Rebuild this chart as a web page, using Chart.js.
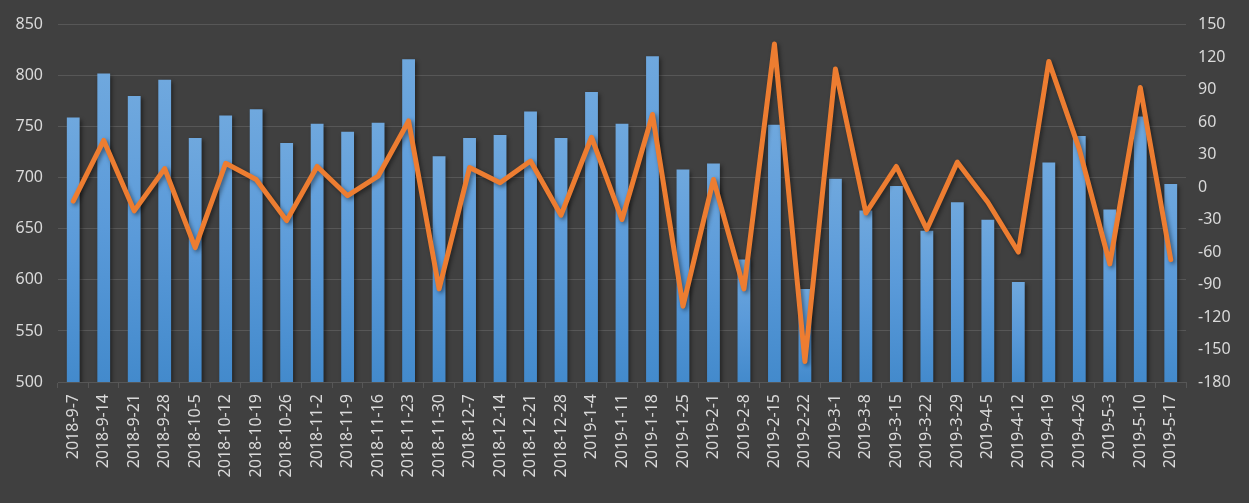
<!DOCTYPE html>
<html>
<head>
<meta charset="utf-8">
<script src="https://cdn.jsdelivr.net/npm/chart.js@4/dist/chart.umd.min.js"></script>
<style>
  html, body { margin: 0; padding: 0; background: #404040; }
  #wrap { width: 1249px; height: 503px; position: relative; }
</style>
</head>
<body>
<div id="wrap"><canvas id="chart"></canvas></div>
<script>
/* ─── Data ───────────────────────────────────────────────── */
const weeks = [
  '2018-9-7', '2018-9-14', '2018-9-21', '2018-9-28', '2018-10-5', '2018-10-12',
  '2018-10-19', '2018-10-26', '2018-11-2', '2018-11-9', '2018-11-16', '2018-11-23',
  '2018-11-30', '2018-12-7', '2018-12-14', '2018-12-21', '2018-12-28', '2019-1-4',
  '2019-1-11', '2019-1-18', '2019-1-25', '2019-2-1', '2019-2-8', '2019-2-15',
  '2019-2-22', '2019-3-1', '2019-3-8', '2019-3-15', '2019-3-22', '2019-3-29',
  '2019-4-5', '2019-4-12', '2019-4-19', '2019-4-26', '2019-5-3', '2019-5-10', '2019-5-17'
];
const barValues = [
  759, 802, 780, 796, 739, 761, 767, 734, 753, 745, 754, 816,
  721, 739, 742, 765, 739, 784, 753, 819, 708, 714, 620, 752,
  591, 699, 668, 692, 648, 676, 659, 598, 715, 741, 669, 760, 694
];
const lineValues = [
  -13, 43, -22, 17, -56, 22, 7, -31, 19, -8, 10, 61,
  -94, 18, 4, 24, -26, 46, -30, 67, -110, 7, -94, 132,
  -161, 109, -24, 19, -39, 23, -14, -60, 116, 35, -71, 92, -67
];
const leftTicks  = [500, 550, 600, 650, 700, 750, 800, 850];
const rightTicks = [-180, -150, -120, -90, -60, -30, 0, 30, 60, 90, 120, 150];

/* ─── Styles ─────────────────────────────────────────────── */
const TEXT = '#d9d9d9';
const GRID = '#575757';
const FONT = 'Noto Sans';

function barGradient(c) {
  const chart = c.chart;
  const area = chart.chartArea;
  if (!area || c.parsed === undefined) return '#5b9bd5';
  const top = chart.scales.y.getPixelForValue(c.parsed.y);
  const g = chart.ctx.createLinearGradient(0, top, 0, area.bottom);
  g.addColorStop(0, '#6fa8de');
  g.addColorStop(0.5, '#5a9ad9');
  g.addColorStop(1, '#438acc');
  return g;
}

const shadowPlugin = {
  id: 'shadows',
  beforeDatasetDraw(chart) {
    const ctx = chart.ctx;
    ctx.save();
    ctx.shadowColor = 'rgba(0,0,0,0.45)';
    ctx.shadowBlur = 4;
    ctx.shadowOffsetX = 2;
    ctx.shadowOffsetY = 2;
  },
  afterDatasetDraw(chart) {
    chart.ctx.restore();
  }
};

/* ─── Chart ──────────────────────────────────────────────── */
new Chart(document.getElementById('chart'), {
  data: {
    labels: weeks,
    datasets: [
      {
        type: 'line',
        data: lineValues,
        yAxisID: 'y1',
        borderColor: '#ed7d31',
        borderWidth: 5,
        pointRadius: 0,
        tension: 0,
        borderJoinStyle: 'round',
        borderCapStyle: 'round',
        order: 1
      },
      {
        type: 'bar',
        data: barValues,
        yAxisID: 'y',
        backgroundColor: barGradient,
        barPercentage: 0.42,
        categoryPercentage: 1,
        order: 2
      }
    ]
  },
  options: {
    responsive: true,
    maintainAspectRatio: false,
    animation: false,
    layout: { padding: { top: 14, left: 0, right: 0, bottom: 0 } },
    plugins: { legend: { display: false }, tooltip: { enabled: false } },
    scales: {
      x: {
        afterFit: s => { s.height = 121; },
        grid: { offset: true, drawOnChartArea: false, color: GRID, tickLength: 6, lineWidth: 1 },
        border: { color: GRID, width: 1 },
        ticks: {
          color: TEXT, font: { family: FONT, size: 16 },
          minRotation: 90, maxRotation: 90, autoSkip: false, padding: 6
        }
      },
      y: {
        position: 'left',
        min: 500, max: 850,
        afterBuildTicks: s => { s.ticks = leftTicks.map(v => ({ value: v })); },
        afterFit: s => { s.width = 58; },
        grid: { color: GRID, lineWidth: 1, drawTicks: false },
        border: { display: false },
        ticks: { color: TEXT, font: { family: FONT, size: 16 }, padding: 15 }
      },
      y1: {
        position: 'right',
        min: -180, max: 150,
        afterBuildTicks: s => { s.ticks = rightTicks.map(v => ({ value: v })); },
        afterFit: s => { s.width = 63; },
        grid: { drawOnChartArea: false, drawTicks: false },
        border: { display: false },
        ticks: { color: TEXT, font: { family: FONT, size: 16 }, padding: 12 }
      }
    }
  },
  plugins: [shadowPlugin]
});
</script>
</body>
</html>
